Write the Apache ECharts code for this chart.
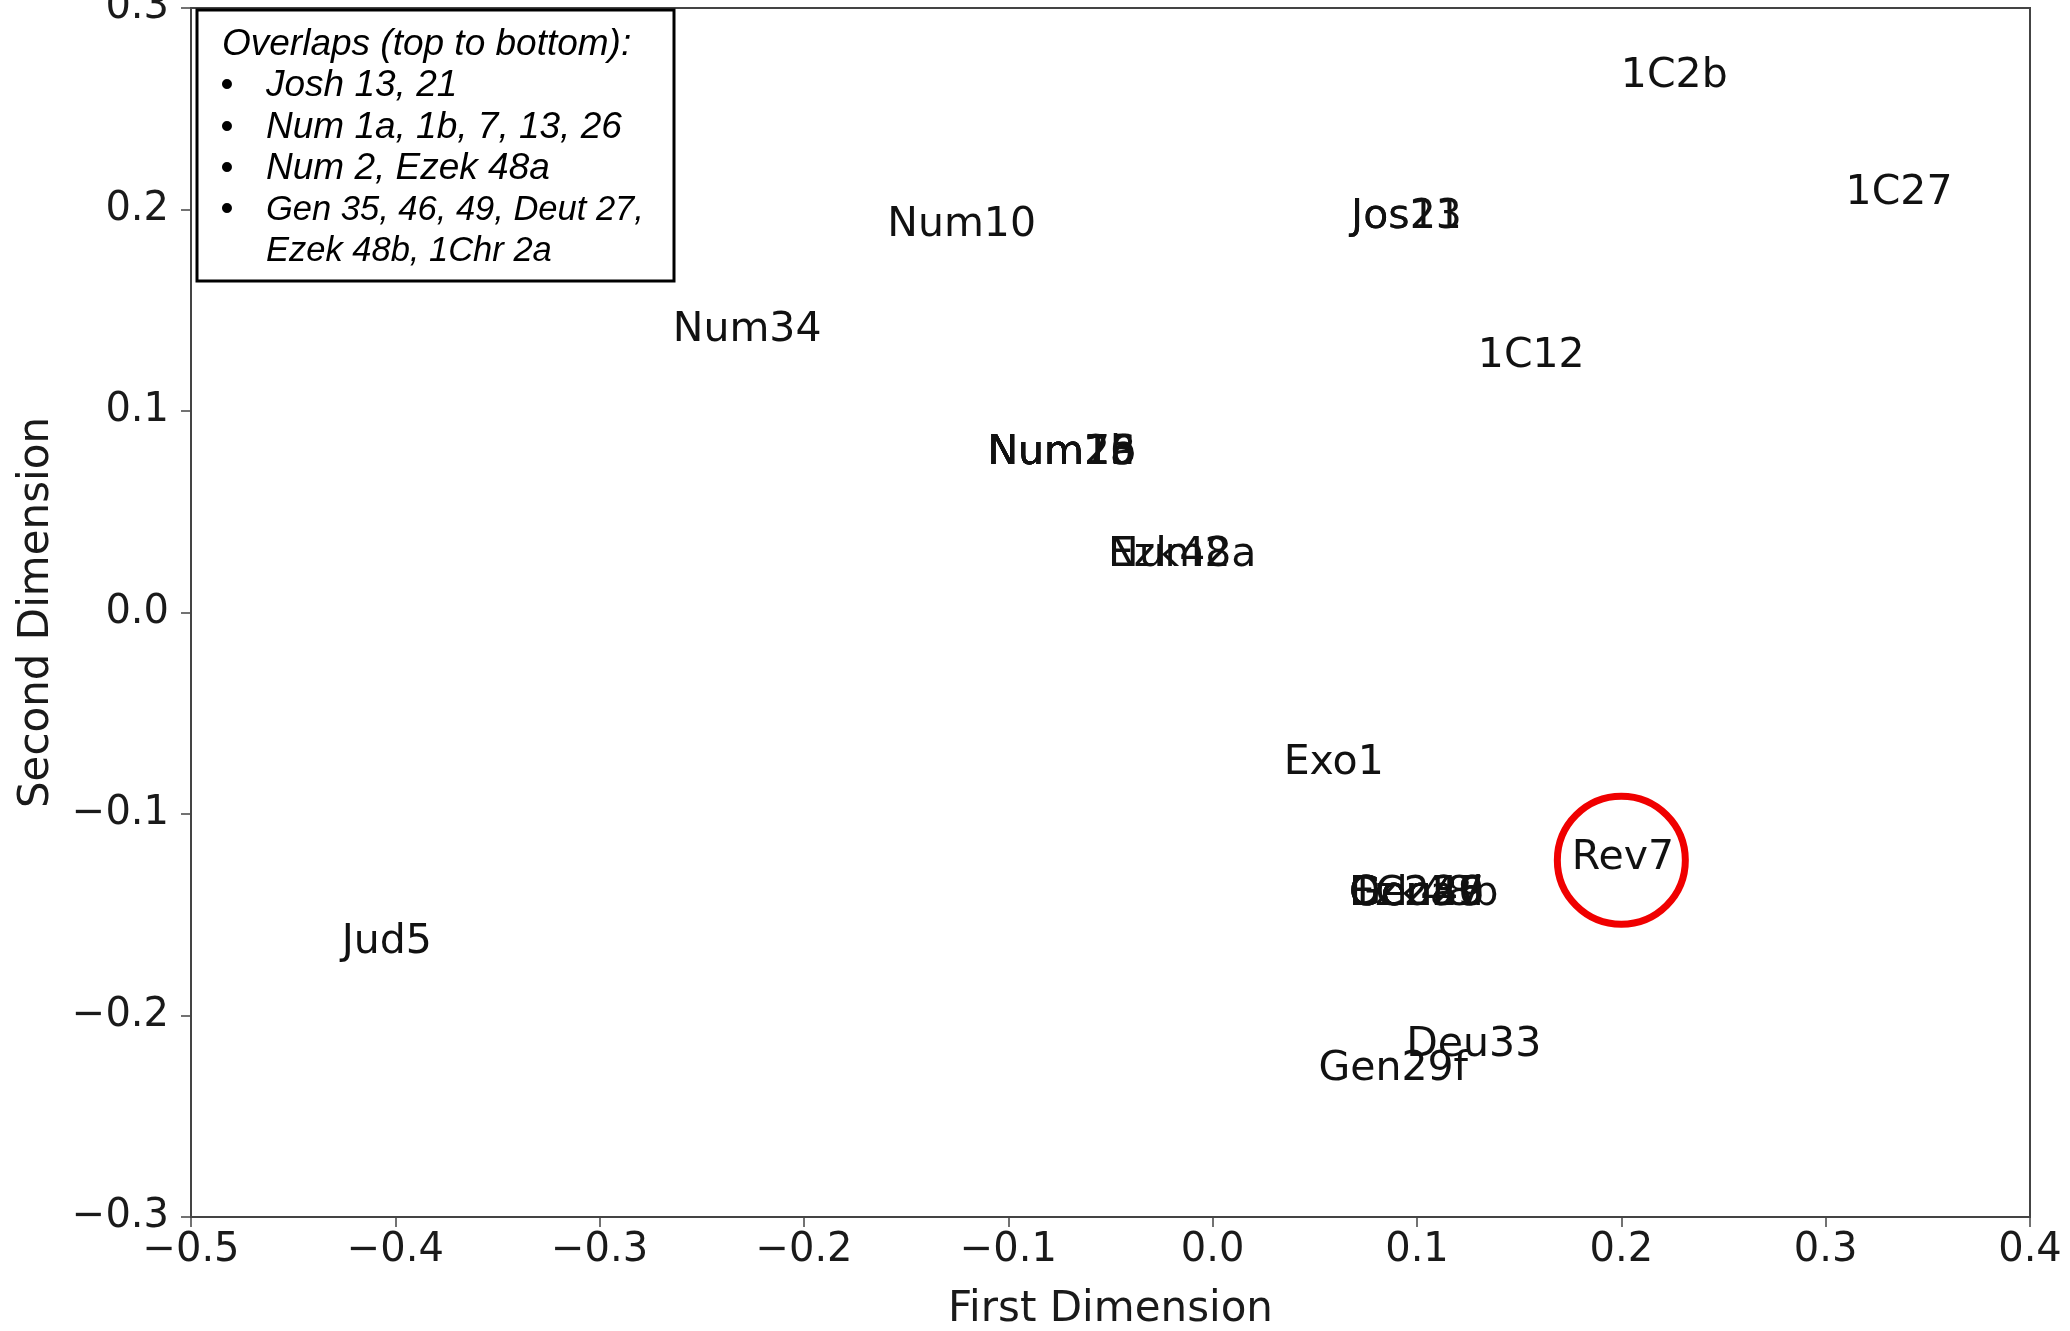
<!DOCTYPE html>
<html>
<head>
<meta charset="utf-8">
<script src="https://cdn.jsdelivr.net/npm/echarts@6/dist/echarts.min.js"></script>
<style>
  html, body { margin: 0; padding: 0; background: #fff; }
  #chart { width: 2070px; height: 1331px; }
</style>
</head>
<body>
<div id="chart"></div>
<script>
// ---- data ----
const labels = ['1C2b','1C27','Jos13','Jos21','Num10','Num34','1C12',
  'Num1a','Num1b','Num7','Num13','Num26','Num2','Ezk48a','Exo1','Rev7',
  'Gen35','Gen46','Gen49','Deu27','Ezk48b','1C2a','Jud5','Deu33','Gen29f'];
const firstDim = [0.200, 0.310, 0.068, 0.068, -0.159, -0.264, 0.130,
  -0.110, -0.110, -0.110, -0.110, -0.110, -0.051, -0.051, 0.035, 0.176,
  0.067, 0.067, 0.067, 0.067, 0.067, 0.067, -0.426, 0.095, 0.052];
const secondDim = [0.260, 0.202, 0.190, 0.190, 0.186, 0.134, 0.121,
  0.073, 0.073, 0.073, 0.073, 0.073, 0.022, 0.022, -0.081, -0.128,
  -0.146, -0.146, -0.146, -0.146, -0.146, -0.146, -0.170, -0.221, -0.233];
const highlightFirst = [0.200];
const highlightSecond = [-0.123];
const xTicks = { min: -0.5, max: 0.4, step: 0.1 };
const yTicks = { min: -0.3, max: 0.3, step: 0.1 };
const xName = 'First Dimension';
const yName = 'Second Dimension';
const overlapTitle = 'Overlaps (top to bottom):';
const overlapItems = [
  ['Josh 13, 21'],
  ['Num 1a, 1b, 7, 13, 26'],
  ['Num 2, Ezek 48a'],
  ['Gen 35, 46, 49, Deut 27,', 'Ezek 48b, 1Chr 2a']
];

// ---- chart ----
const chart = echarts.init(document.getElementById('chart'), null, { renderer: 'canvas' });
const FONT = 'DejaVu Sans';
const fmt = v => {
  const r = Math.round(v * 10) / 10;
  const s = Math.abs(r).toFixed(1);
  return (r < 0 ? '\u2212' : '') + s;
};

const pointData = labels.map((n, i) => ({ name: n, value: [firstDim[i], secondDim[i]] }));
const circleData = highlightFirst.map((x, i) => [x, highlightSecond[i]]);

// overlap box (annotation) built from text arrays
const boxLeft = 197, boxTop = 10, lineGap = 41.4, textSize = 37;
const legendChildren = [{
  type: 'rect',
  shape: { x: boxLeft, y: boxTop, width: 477, height: 271 },
  style: { fill: '#fff', stroke: '#000', lineWidth: 3 }
}, {
  type: 'text', x: 222, y: 57.5 - 13,
  style: { text: overlapTitle, font: 'italic ' + textSize + 'px "Liberation Sans"', fill: '#000', verticalAlign: 'middle', align: 'left' }
}];
let lineIdx = 1;
overlapItems.forEach((item, k) => {
  const size = item.length > 1 ? 34.5 : textSize;
  item.forEach((ln, j) => {
    const base = 57.5 + lineIdx * lineGap;
    if (j === 0) {
      legendChildren.push({
        type: 'text', x: 227, y: base - 13,
        style: { text: '\u2022', font: textSize + 'px "Liberation Sans"', fill: '#000', verticalAlign: 'middle', align: 'center' }
      });
    }
    legendChildren.push({
      type: 'text', x: 266, y: base - 13,
      style: { text: ln, font: 'italic ' + size + 'px "Liberation Sans"', fill: '#000', verticalAlign: 'middle', align: 'left' }
    });
    lineIdx++;
  });
});

const axisCommon = {
  type: 'value',
  splitLine: { show: false },
  axisLine: { show: true, onZero: false, lineStyle: { color: '#444', width: 2 } },
  axisTick: { show: true, inside: false, length: 10, lineStyle: { color: '#444', width: 1.5 } },
  nameLocation: 'middle',
  nameTextStyle: { fontFamily: FONT, fontSize: 42, color: '#1a1a1a' }
};

chart.setOption({
  animation: false,
  backgroundColor: '#fff',
  grid: {
    left: 191, right: 40, top: 8, bottom: 114,
    containLabel: false, outerBoundsMode: 'none',
    show: true, borderColor: '#444', borderWidth: 2, backgroundColor: 'transparent'
  },
  xAxis: Object.assign({}, axisCommon, {
    min: xTicks.min, max: xTicks.max, interval: xTicks.step,
    name: xName, nameGap: 72,
    axisLabel: { formatter: fmt, fontFamily: FONT, fontSize: 40, color: '#1a1a1a', margin: 14 }
  }),
  yAxis: Object.assign({}, axisCommon, {
    min: yTicks.min, max: yTicks.max, interval: yTicks.step,
    name: yName, nameGap: 133,
    axisLabel: { formatter: fmt, fontFamily: FONT, fontSize: 40, color: '#1a1a1a', margin: 22 }
  }),
  series: [{
    type: 'scatter',
    data: pointData,
    symbolSize: 1,
    itemStyle: { color: 'rgba(0,0,0,0)', opacity: 1 },
    silent: true,
    label: {
      show: true,
      formatter: '{b}',
      position: [0, -12],
      align: 'left',
      verticalAlign: 'middle',
      fontFamily: FONT,
      fontSize: 41,
      color: '#111',
      opacity: 1
    },
    labelLayout: { hideOverlap: false }
  }, {
    type: 'scatter',
    data: circleData,
    symbol: 'circle',
    symbolSize: 128,
    silent: true,
    itemStyle: { color: 'rgba(0,0,0,0)', borderColor: '#f00000', borderWidth: 7, opacity: 1 },
    z: 5
  }],
  graphic: [{ type: 'group', children: legendChildren, z: 100 }]
});
</script>
</body>
</html>
